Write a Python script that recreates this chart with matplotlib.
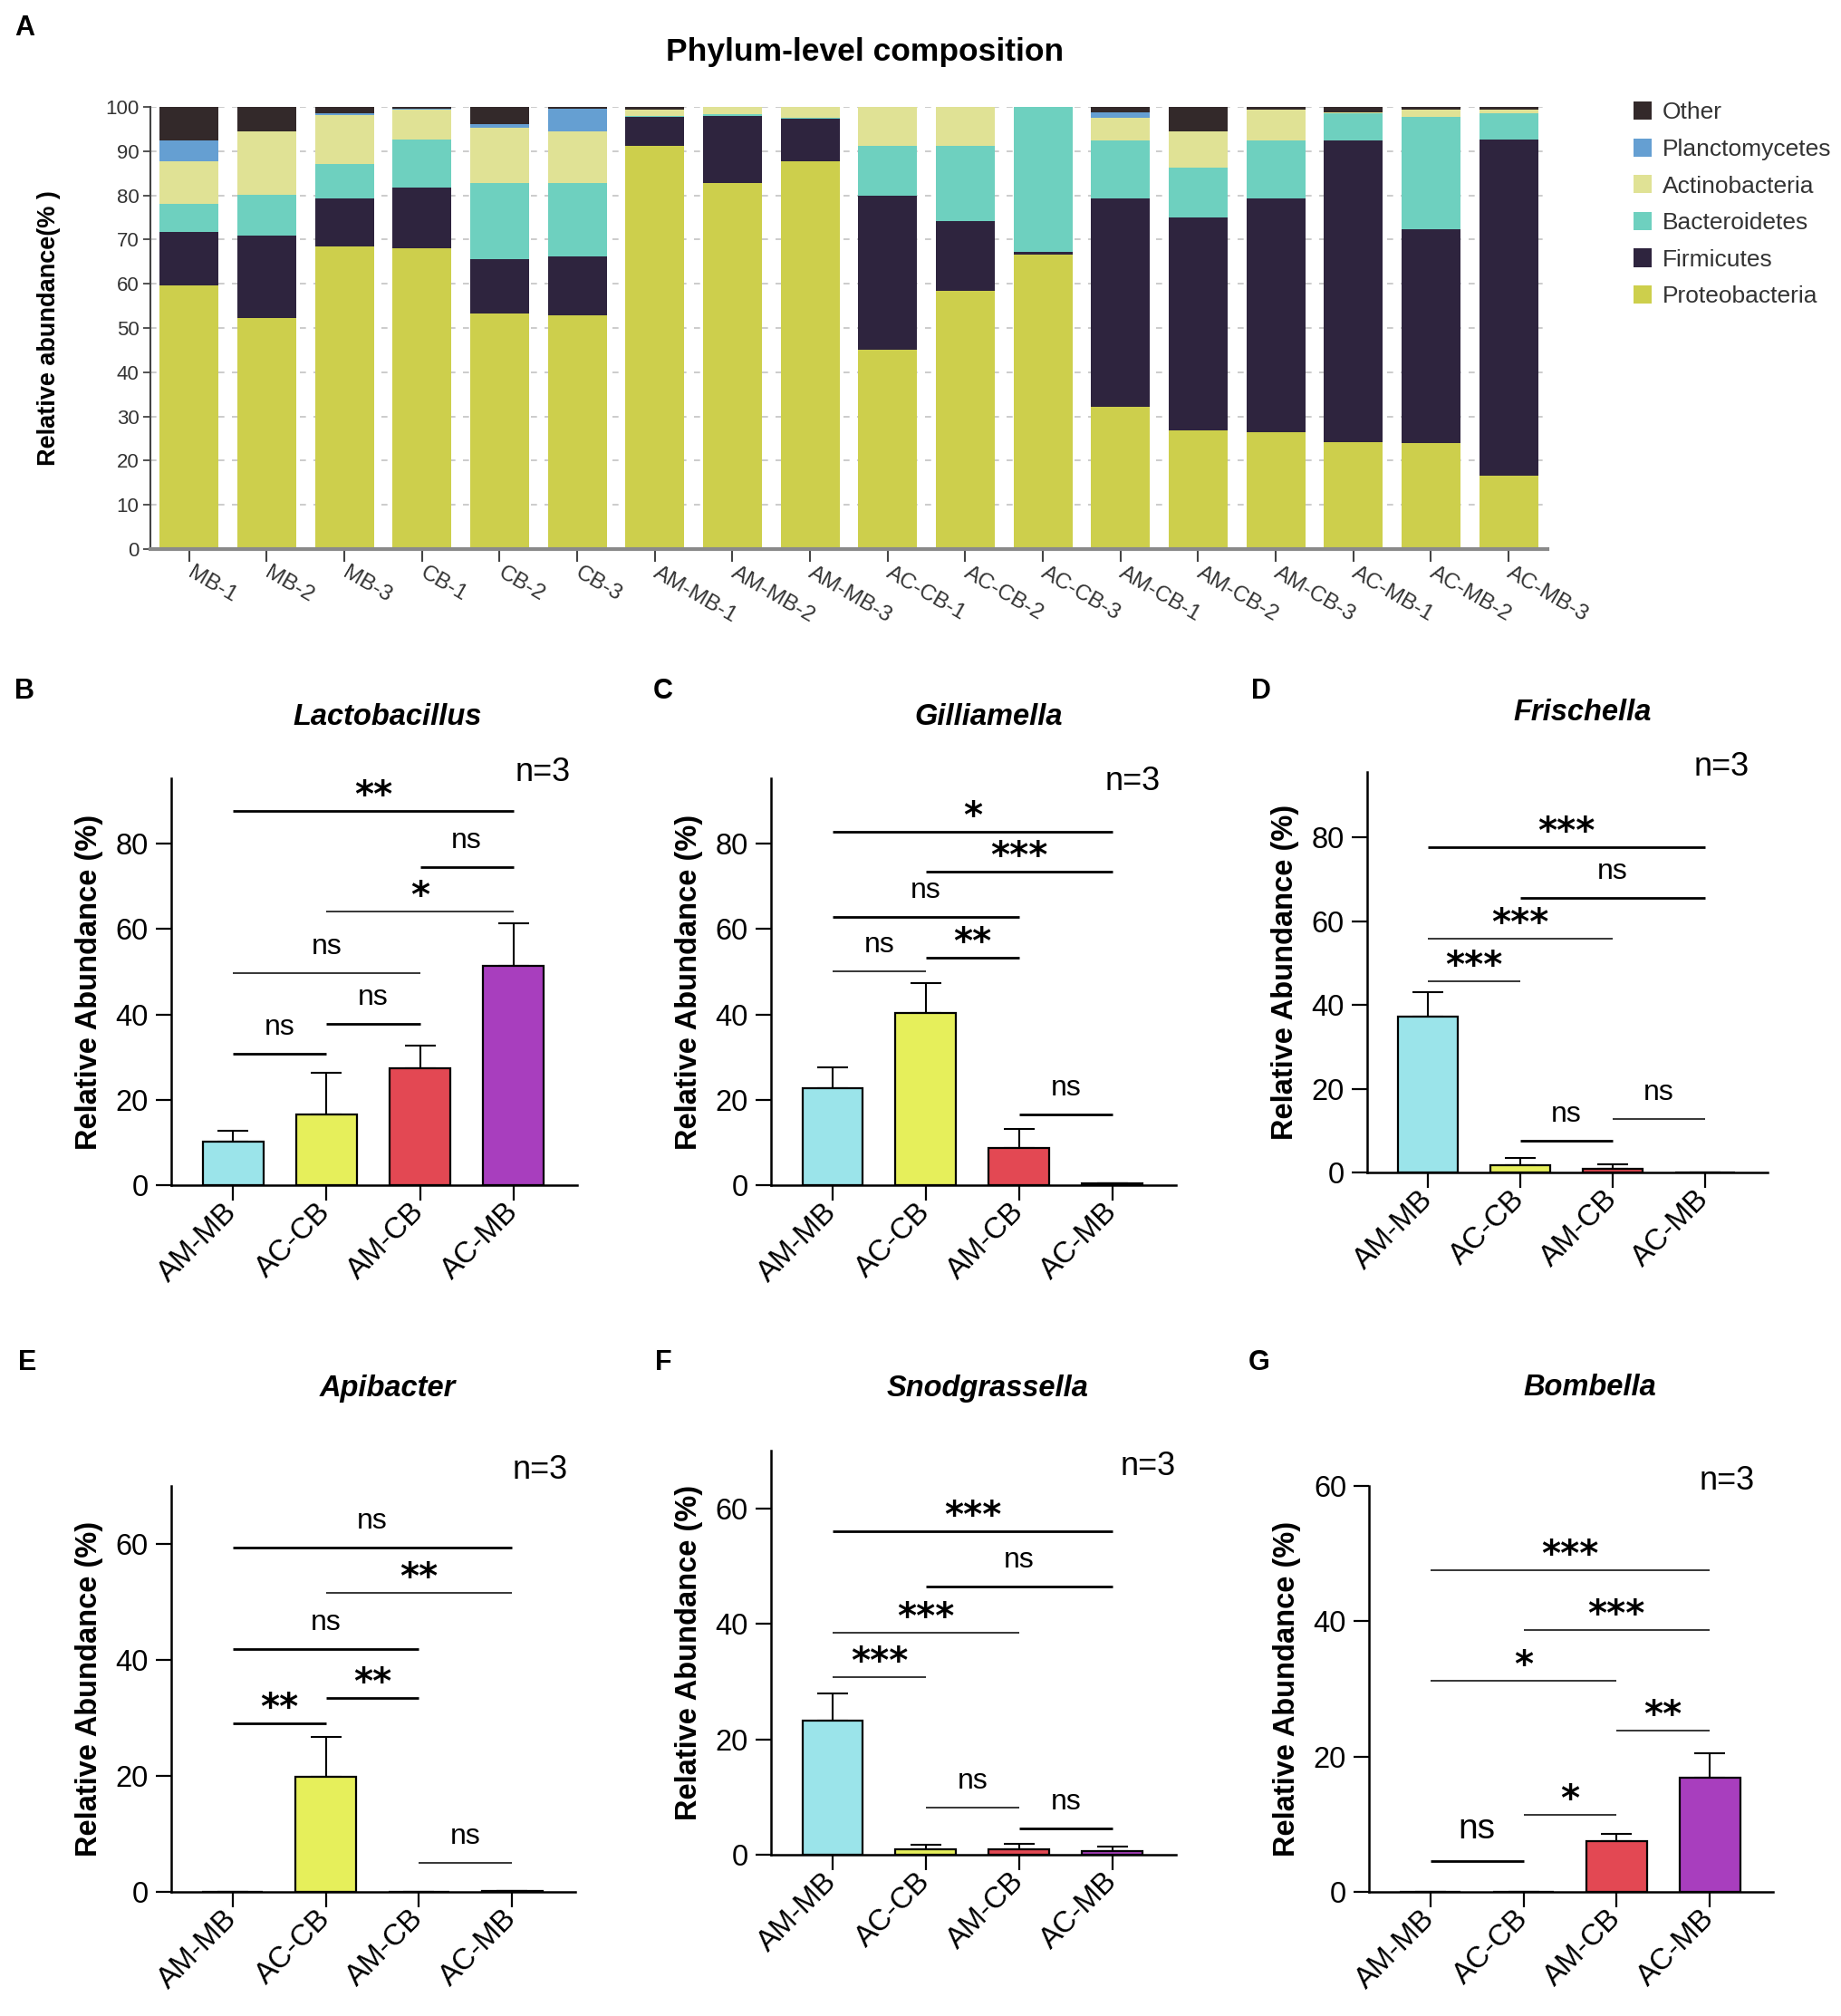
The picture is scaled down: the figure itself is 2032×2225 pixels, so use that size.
import numpy as np
import matplotlib
matplotlib.use("Agg")
import matplotlib.pyplot as plt

plt.rcParams['font.family'] = ['Liberation Sans', 'DejaVu Sans']

# ---------------- data: panel A ----------------
samples = ['MB-1', 'MB-2', 'MB-3', 'CB-1', 'CB-2', 'CB-3',
           'AM-MB-1', 'AM-MB-2', 'AM-MB-3', 'AC-CB-1', 'AC-CB-2', 'AC-CB-3',
           'AM-CB-1', 'AM-CB-2', 'AM-CB-3', 'AC-MB-1', 'AC-MB-2', 'AC-MB-3']
proteobacteria = [59.7, 52.2, 68.4, 68.1, 53.3, 52.8, 91.2, 82.7, 87.7,
                  45.0, 58.3, 66.6, 32.1, 26.9, 26.4, 24.2, 24.0, 16.7]
firmicutes = [12.1, 18.8, 10.9, 13.6, 12.3, 13.4, 6.5, 15.3, 9.6,
              34.9, 15.9, 0.6, 47.2, 48.1, 52.9, 68.3, 48.4, 76.0]
bacteroidetes = [6.3, 9.1, 7.8, 11.0, 17.1, 16.5, 0.3, 0.3, 0.2,
                 11.3, 16.9, 32.8, 13.1, 11.2, 13.2, 6.0, 25.3, 5.9]
actinobacteria = [9.6, 14.4, 11.1, 6.7, 12.6, 11.7, 1.4, 1.7, 2.5,
                  8.8, 8.9, 0.0, 5.1, 8.3, 6.9, 0.3, 1.6, 0.7]
planctomycetes = [4.8, 0.0, 0.3, 0.1, 0.9, 5.1, 0.0, 0.0, 0.0,
                  0.0, 0.0, 0.0, 1.3, 0.0, 0.0, 0.0, 0.0, 0.0]
other = [7.5, 5.5, 1.5, 0.5, 3.8, 0.5, 0.6, 0.0, 0.0,
         0.0, 0.0, 0.0, 1.2, 5.5, 0.6, 1.2, 0.7, 0.7]
phyla = ['Proteobacteria', 'Firmicutes', 'Bacteroidetes', 'Actinobacteria', 'Planctomycetes', 'Other']
phylum_colors = ['#CDCF4C', '#2E243E', '#6ED0BF', '#E0E295', '#659FD2', '#33292A']

# ---------------- data: panels B-G ----------------
groups = ['AM-MB', 'AC-CB', 'AM-CB', 'AC-MB']
group_colors = ['#9BE4EA', '#E6EF5B', '#E34853', '#A83EBE']

lactobacillus_mean = [10.1, 16.5, 27.4, 51.4]
lactobacillus_sd = [2.7, 9.9, 5.3, 9.9]
gilliamella_mean = [22.7, 40.4, 8.7, 0.4]
gilliamella_sd = [4.9, 7.0, 4.4, 0.1]
frischella_mean = [37.2, 1.7, 0.9, 0.1]
frischella_sd = [5.9, 1.8, 1.1, 0.0]
apibacter_mean = [0.0, 19.8, 0.0, 0.1]
apibacter_sd = [0.0, 6.9, 0.0, 0.0]
snodgrassella_mean = [23.2, 1.0, 1.0, 0.6]
snodgrassella_sd = [4.7, 0.7, 0.9, 0.8]
bombella_mean = [0.0, 0.0, 7.5, 16.9]
bombella_sd = [0.0, 0.0, 1.1, 3.6]

# significance brackets: (group i, group j, height, label, thick line?)
lactobacillus_sig = [(0, 3, 87.7, '**', True), (2, 3, 74.6, 'ns', True), (1, 3, 64.2, '*', False),
                     (0, 2, 49.7, 'ns', False), (1, 2, 37.8, 'ns', True), (0, 1, 30.7, 'ns', True)]
gilliamella_sig = [(0, 3, 82.8, '*', True), (1, 3, 73.4, '***', True), (0, 2, 62.8, 'ns', True),
                   (1, 2, 53.3, '**', True), (0, 1, 50.0, 'ns', False), (2, 3, 16.5, 'ns', True)]
frischella_sig = [(0, 3, 77.6, '***', True), (1, 3, 65.6, 'ns', True), (0, 2, 55.8, '***', False),
                  (0, 1, 45.7, '***', False), (1, 2, 7.6, 'ns', True), (2, 3, 12.8, 'ns', False)]
apibacter_sig = [(0, 3, 59.3, 'ns', True), (1, 3, 51.6, '**', False), (0, 2, 41.8, 'ns', True),
                 (1, 2, 33.4, '**', True), (0, 1, 29.0, '**', True), (2, 3, 5.0, 'ns', False)]
snodgrassella_sig = [(0, 3, 56.0, '***', True), (1, 3, 46.5, 'ns', True), (0, 2, 38.5, '***', False),
                     (0, 1, 30.8, '***', False), (1, 2, 8.2, 'ns', False), (2, 3, 4.6, 'ns', True)]
bombella_sig = [(0, 3, 47.5, '***', False), (1, 3, 38.7, '***', False), (0, 2, 31.2, '*', False),
                (2, 3, 23.9, '**', False), (1, 2, 11.4, '*', False), (0, 1, 4.6, 'ns', True)]

genera = ['Lactobacillus', 'Gilliamella', 'Frischella', 'Apibacter', 'Snodgrassella', 'Bombella']
means = [lactobacillus_mean, gilliamella_mean, frischella_mean, apibacter_mean, snodgrassella_mean, bombella_mean]
sds = [lactobacillus_sd, gilliamella_sd, frischella_sd, apibacter_sd, snodgrassella_sd, bombella_sd]
sigs = [lactobacillus_sig, gilliamella_sig, frischella_sig, apibacter_sig, snodgrassella_sig, bombella_sig]

# ---------------- layout (pixels) ----------------
W, H = 2033, 2225
fig = plt.figure(figsize=(W / 100, H / 100), dpi=100)


def add_ax(l, t, r, b):
    return fig.add_axes([l / W, 1 - b / H, (r - l) / W, (b - t) / H])


# ---------------- panel A ----------------
axA = add_ax(166, 118, 1708, 606)
x = np.arange(len(samples))
bottom = np.zeros(len(samples))
handles = []
for name, vals, col in zip(phyla, [proteobacteria, firmicutes, bacteroidetes, actinobacteria, planctomycetes, other], phylum_colors):
    h = axA.bar(x, vals, 0.755, bottom=bottom, color=col, label=name, zorder=2, linewidth=0)
    handles.append(h)
    bottom += np.array(vals)
axA.set_xlim(-0.5, 17.5)
axA.set_ylim(0, 100)
axA.set_yticks(np.arange(0, 101, 10))
axA.yaxis.grid(True, linestyle=(0, (4, 5)), color='#c4c4c4', lw=1.2)
axA.set_axisbelow(True)
for s in ['top', 'right']:
    axA.spines[s].set_visible(False)
axA.spines['left'].set_color('#444444')
axA.spines['left'].set_linewidth(1.5)
axA.spines['bottom'].set_color('#8a8a8a')
axA.spines['bottom'].set_linewidth(3)
axA.tick_params(axis='y', direction='out', length=6, width=1.3, color='#444444', labelsize=16, labelcolor='#333333', pad=3)
axA.tick_params(axis='x', direction='out', length=10, width=1.5, color='#444444', pad=8)
axA.set_xticks(x)
axA.set_xticklabels(samples, rotation=-30, ha='left', va='center', rotation_mode='anchor',
                    fontsize=17.5, color='#333333')
axA.set_ylabel('Relative abundance(% )', fontsize=19.5, fontweight='bold')
axA.yaxis.label.set_verticalalignment('center')
axA.yaxis.set_label_coords(-(166 - 54) / 1542, 0.5)
leg = axA.legend(handles[::-1], phyla[::-1], loc='upper left', bbox_to_anchor=(1803 / W, 1 - 112 / H),
                 bbox_transform=fig.transFigure, frameon=False, fontsize=19, handlelength=0.75,
                 handleheight=0.8, handletextpad=0.45, labelspacing=0.62, borderaxespad=0, borderpad=0)
for t in leg.get_texts():
    t.set_color('#333333')
fig.text(955 / W, 1 - 57 / H, 'Phylum-level composition', ha='center', va='center',
         fontsize=25.5, fontweight='bold')

# ---------------- panels B-G ----------------
panel_boxes = [(189, 859, 637, 1308), (851, 859, 1298, 1308), (1509, 852, 1951, 1294),
               (189, 1640, 635, 2088), (851, 1601, 1298, 2047), (1511, 1640, 1957, 2088)]
ytops = [95.3, 95.3, 95.6, 70, 70, 60]
yticks_list = [[0, 20, 40, 60, 80]] * 3 + [[0, 20, 40, 60]] * 3
title_pos = [(428, 792), (1091, 792), (1747, 787), (428, 1532), (1090, 1532), (1755, 1532)]
n_pos = [(599, 853), (1250, 862), (1900, 847), (596, 1622), (1267, 1618), (1906, 1634)]
letters = ['A', 'B', 'C', 'D', 'E', 'F', 'G']
letter_pos = [(27, 31), (27, 763), (732, 763), (1392, 763), (30, 1504), (732, 1504), (1390, 1504)]

gx = np.arange(len(groups))
for k in range(6):
    l, t, r, b = panel_boxes[k]
    ax = add_ax(l, t, r, b)
    ax.bar(gx, means[k], 0.65, color=group_colors, edgecolor='black', linewidth=1.6, zorder=3)
    ax.errorbar(gx, means[k], yerr=[np.zeros(4), sds[k]], fmt='none', ecolor='black',
                elinewidth=1.5, capsize=12.5, capthick=1.5, zorder=2)
    ax.set_xlim(-0.66, 3.68)
    ax.set_ylim(0, ytops[k])
    ax.set_yticks(yticks_list[k])
    ax.set_xticks(gx)
    ax.set_xticklabels(groups, rotation=45, ha='right', va='center', rotation_mode='anchor', fontsize=24)
    ax.tick_params(axis='both', direction='out', length=12, width=1.6, labelsize=23.5, pad=6)
    for s in ['top', 'right']:
        ax.spines[s].set_visible(False)
    for s in ['left', 'bottom']:
        ax.spines[s].set_linewidth(1.8)
    ax.set_ylabel('Relative Abundance (%)', fontsize=23.5, fontweight='bold')
    ax.yaxis.label.set_verticalalignment('center')
    ax.yaxis.set_label_coords(-90 / (r - l), 0.5)
    for (i, j, yv, lab, thick) in sigs[k]:
        ax.plot([i, j], [yv, yv], color='black', lw=2.0 if thick else 1.1, solid_capstyle='butt', zorder=4)
        if lab == 'ns':
            big = (k == 5)
            ax.annotate(lab, xy=((i + j) / 2, yv), xytext=(0, 35 if big else 29), textcoords='offset pixels',
                        ha='center', va='center', fontsize=28 if big else 23)
        else:
            ax.annotate(lab, xy=((i + j) / 2, yv), xytext=(0, 16), textcoords='offset pixels',
                        ha='center', va='center', fontsize=29, fontweight='bold', family='DejaVu Sans')
    tx, ty = title_pos[k]
    fig.text(tx / W, 1 - ty / H, genera[k], ha='center', va='center', fontsize=23.5,
             fontweight='bold', fontstyle='italic')
    nx, ny = n_pos[k]
    fig.text(nx / W, 1 - ny / H, 'n=3', ha='center', va='center', fontsize=26)

for let, (px, py) in zip(letters, letter_pos):
    fig.text(px / W, 1 - py / H, let, ha='center', va='center', fontsize=22, fontweight='bold')

fig.savefig('out.png', dpi=100)
